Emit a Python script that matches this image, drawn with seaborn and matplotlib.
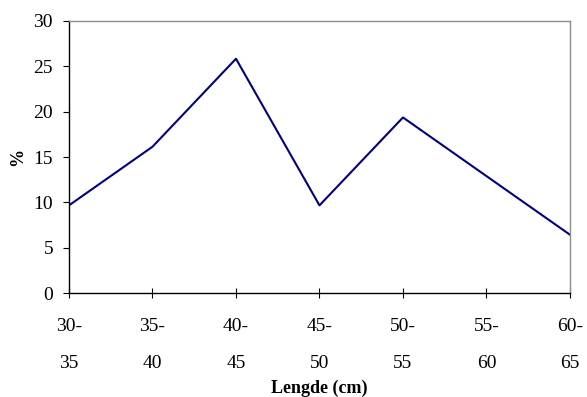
import pandas as pd
import seaborn as sns
import matplotlib.pyplot as plt

# length classes (cm) and share of fish (%)
lengths = ["30-\n35", "35-\n40", "40-\n45", "45-\n50", "50-\n55", "55-\n60", "60-\n65"]
percent = [9.68, 16.13, 25.81, 9.68, 19.35, 12.90, 6.45]
yticks = [0, 5, 10, 15, 20, 25, 30]

data = pd.DataFrame({"lengde": lengths, "prosent": percent})

sns.set_style("white")
plt.rcParams["font.family"] = ["Liberation Serif", "DejaVu Serif"]
plt.rcParams["text.color"] = "black"
plt.rcParams["xtick.color"] = "black"
plt.rcParams["ytick.color"] = "black"
plt.rcParams["axes.labelcolor"] = "black"

fig = plt.figure(figsize=(5.87, 3.97), dpi=100)
ax = fig.add_axes([0.1175, 0.261, 0.8535, 0.687])

sns.lineplot(x="lengde", y="prosent", data=data, color="#000080", linewidth=1.5, ax=ax, sort=False)

ax.set_xlim(0, len(lengths) - 1)
ax.set_ylim(0, 30)
ax.set_yticks(yticks)
ax.set_yticklabels([str(t) for t in yticks])

for s in ["left", "bottom"]:
    ax.spines[s].set_color("black")
    ax.spines[s].set_linewidth(1.0)
for s in ["top", "right"]:
    ax.spines[s].set_color("#8c8c8c")
    ax.spines[s].set_linewidth(1.0)

ax.tick_params(axis="y", direction="out", length=4.5, width=0.8, pad=7, labelsize=14, left=True)
ax.tick_params(axis="x", direction="inout", length=7, width=0.8, pad=14, labelsize=14, bottom=True)
for lbl in ax.get_xticklabels():
    lbl.set_linespacing(2.6)

ax.set_xlabel("Lengde (cm)", fontsize=13, fontweight="bold")
ax.set_ylabel("%", fontsize=13, fontweight="bold")
ax.xaxis.set_label_coords(0.5, -0.348)
ax.yaxis.set_label_coords(-0.102, 0.5)
ax.xaxis.label.set_va("center")
ax.yaxis.label.set_va("center")

plt.savefig("out.png", dpi=100)
